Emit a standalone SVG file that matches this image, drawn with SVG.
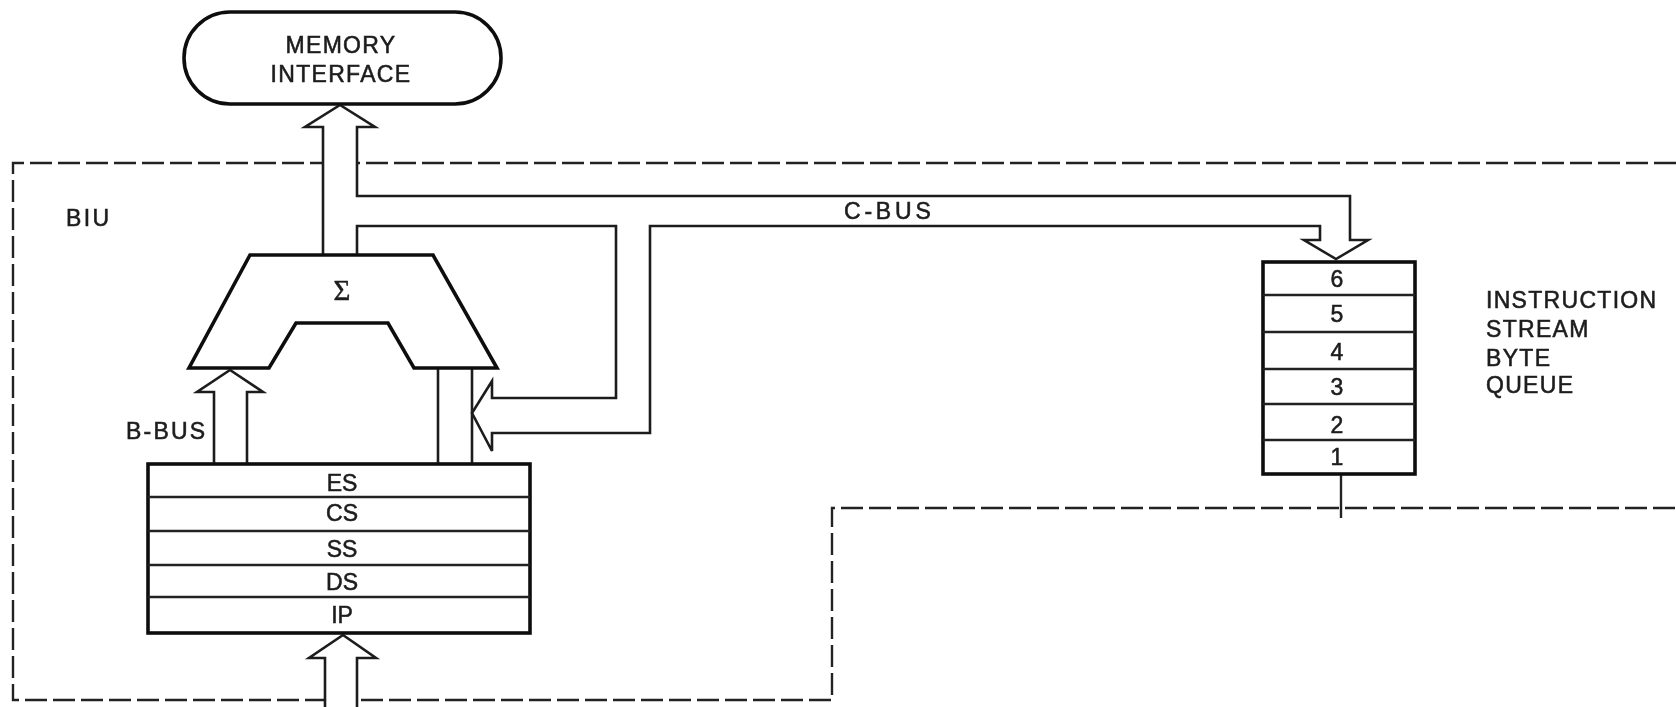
<svg xmlns="http://www.w3.org/2000/svg" width="1676" height="707" viewBox="0 0 1676 707">
<style>
.bus{fill:#fff;stroke:#1c1c1c;stroke-width:2.6;stroke-linejoin:miter}
.box{fill:#fff;stroke:#111;stroke-width:3.6}
.sep{fill:none;stroke:#222;stroke-width:2.4}
.dash{fill:none;stroke:#222;stroke-width:2.4;stroke-dasharray:22 6}
text{font-family:"Liberation Sans",Arial,sans-serif;font-size:23px;fill:#1c1c1c;stroke:#1c1c1c;stroke-width:.55}
.c{text-anchor:middle}
.l{letter-spacing:1.3px}
</style>
<defs><filter id="soft" filterUnits="userSpaceOnUse" x="0" y="0" width="1676" height="707"><feGaussianBlur stdDeviation="0.55"/></filter></defs>
<rect width="1676" height="707" fill="#fff"/>
<g filter="url(#soft)">
<g id="biu-boundary">
<path class="dash" d="M1676 163H13V700H832V508H1676"/>
<text class="l" x="66" y="226" style="letter-spacing:2.4px">BIU</text>
</g>
<g id="connectors">
<path class="bus" d="M323 255V127H305L340 105L375 127H357V196H1350V240H1368L1336 259L1304 240H1320V226H650V433H492V451L472 413L492 381V398H616V226H357V255"/>
<path class="bus" d="M214 463V392H197L230 370L263 392H247V463"/>
<path class="bus" d="M438 368V463M472 368V463" fill="none"/>
<path class="bus" d="M325 707V658H309L343 635L376 658H357V707"/>
<path class="sep" d="M1341 474V518"/>
<text class="l" x="844" y="219" style="letter-spacing:3.8px">C-BUS</text>
<text class="l" x="126" y="439" style="letter-spacing:2.2px">B-BUS</text>
</g>
<g id="memory-interface">
<rect class="box" x="184" y="12" width="317" height="92" rx="46" ry="46"/>
<text class="c l" x="341" y="53">MEMORY</text>
<text class="c l" x="341" y="82">INTERFACE</text>
</g>
<g id="adder">
<path class="box" d="M250 255H433L497 368H414L388 323H296L269 368H189Z"/>
<text class="c" x="342" y="300" style="font-family:'Liberation Serif',serif;font-size:29px;stroke-width:.5">Σ</text>
</g>
<g id="segment-registers">
<rect class="box" x="148" y="464" width="382" height="169"/>
<path class="sep" d="M148 497H530M148 531H530M148 565H530M148 597H530"/>
<text class="c" x="342" y="491">ES</text>
<text class="c" x="342" y="521">CS</text>
<text class="c" x="342" y="557">SS</text>
<text class="c" x="342" y="590">DS</text>
<text class="c" x="342" y="623">IP</text>
</g>
<g id="instruction-queue">
<rect class="box" x="1263" y="262" width="152" height="212"/>
<path class="sep" d="M1263 295H1415M1263 332H1415M1263 369H1415M1263 404H1415M1263 440H1415"/>
<text class="c" x="1337" y="287">6</text>
<text class="c" x="1337" y="322">5</text>
<text class="c" x="1337" y="360">4</text>
<text class="c" x="1337" y="395">3</text>
<text class="c" x="1337" y="433">2</text>
<text class="c" x="1337" y="465">1</text>
</g>
<g id="queue-label">
<text class="l" x="1486" y="308">INSTRUCTION</text>
<text class="l" x="1486" y="337">STREAM</text>
<text class="l" x="1486" y="366">BYTE</text>
<text class="l" x="1486" y="393">QUEUE</text>
</g>
</g>
</svg>
